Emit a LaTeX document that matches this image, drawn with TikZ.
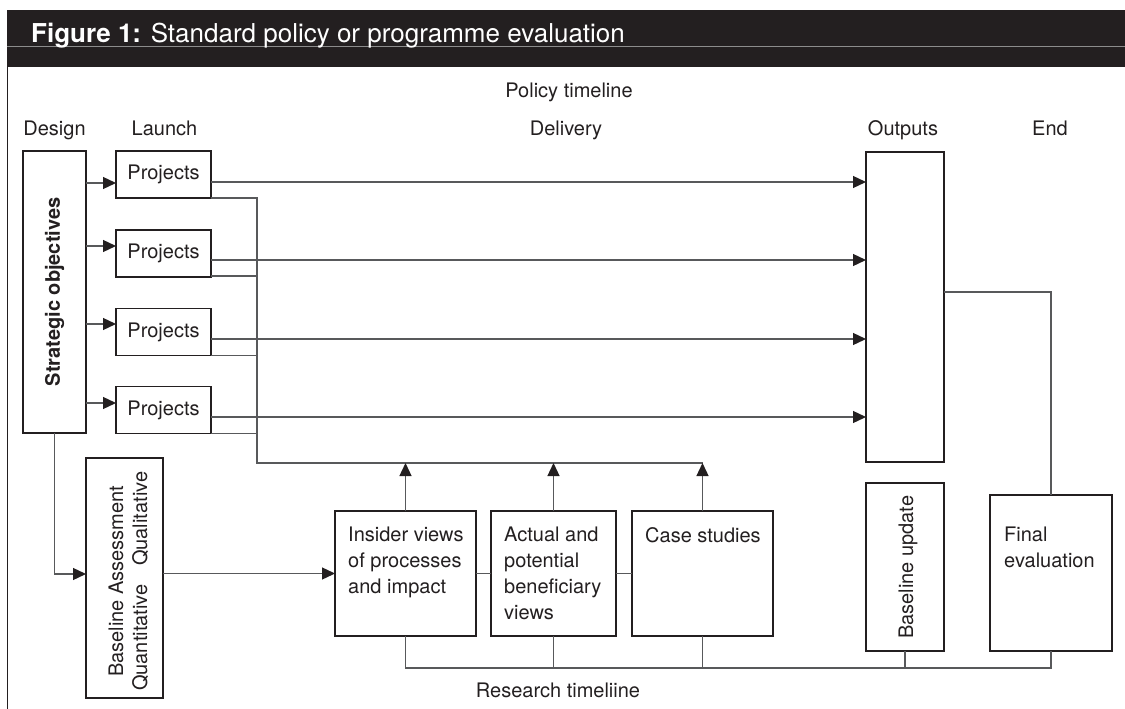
\documentclass[tikz,border=0pt]{standalone}
\usepackage{fontspec}
\setmainfont{TeX Gyre Heros}
\usetikzlibrary{arrows.meta}
\definecolor{ink}{HTML}{231F20}
\definecolor{wire}{HTML}{58595B}
\definecolor{rulegrey}{HTML}{8C8C8C}
\newcommand\figfont{\fontsize{20}{26}\selectfont}
\newcommand\titlefont{\fontsize{26}{30}\selectfont}
\begin{document}
\begin{tikzpicture}[x=1pt,y=-1pt,
  every node/.style={font=\figfont, text=ink},
  box/.style={draw=ink, line width=1.4pt, inner sep=0pt, outer sep=0pt},
  txt/.style={inner sep=0pt, align=left, anchor=north west},
  vtxt/.style={inner sep=0pt, rotate=90, anchor=base west},
  wire/.style={draw=wire, line width=1.3pt},
  arr/.style={wire, -{Triangle[length=13pt,width=12pt,color=ink]}}]
\useasboundingbox (0,0) rectangle (1125,709);

% title band and frame
\fill[ink] (7,10) rectangle (1125,67);
\draw[rulegrey, line width=1pt] (7,47) -- (1125,47);
\draw[ink, line width=1.4pt] (7.7,67) -- (7.7,709);
\node[anchor=base west, text=white, inner sep=0pt, font=\titlefont] (title) at (31,43)
  {\textbf{Figure 1:} Standard policy or programme evaluation};

% phase labels
\node[anchor=base] (lpolicy) at (569,97) {Policy timeline};
\node[anchor=base] (ldesign) at (54.5,135) {Design};
\node[anchor=base] (llaunch) at (164.5,135) {Launch};
\node[anchor=base] (ldelivery) at (566,135) {Delivery};
\node[anchor=base] (loutputs) at (903,135) {Outputs};
\node[anchor=base] (lend) at (1050,135) {End};
\node[anchor=base] (lresearch) at (558,697) {Research timeliine};

% boxes
\node[box, minimum width=63pt, minimum height=282pt] (so) at (54.5,292) {};
\node[rotate=90, inner sep=0pt, font=\figfont\bfseries] (sotxt) at (so.center) {Strategic objectives};
\node[box, minimum width=95pt, minimum height=47pt] (p1) at (163.5,174.5) {Projects};
\node[box, minimum width=95pt, minimum height=47pt] (p2) at (163.5,253.5) {Projects};
\node[box, minimum width=95pt, minimum height=47pt] (p3) at (163.5,332) {Projects};
\node[box, minimum width=95pt, minimum height=47pt] (p4) at (163.5,410) {Projects};
\node[box, minimum width=78pt, minimum height=310pt] (out) at (905,307) {};

\node[box, minimum width=77pt, minimum height=240pt] (ba) at (124.5,578) {};
\node[vtxt] (batxt) at ([shift={(37,-21)}]ba.south west) {Baseline Assessment};
\node[vtxt] (baqn) at ([shift={(61,-7)}]ba.south west) {Quantitative};
\node[vtxt] (baql) at ([shift={(61,-132)}]ba.south west) {Qualitative};

\node[box, minimum width=141pt, minimum height=125pt] (ins) at (405.5,573.5) {};
\node[txt] (instxt) at ([shift={(13,16)}]ins.north west) {Insider views\\of processes\\and impact};
\node[box, minimum width=125pt, minimum height=125pt] (act) at (553.5,573.5) {};
\node[txt] (acttxt) at ([shift={(13,16)}]act.north west) {Actual and\\potential\\beneficiary\\views};
\node[box, minimum width=141pt, minimum height=125pt] (cs) at (702.5,573.5) {};
\node[txt] (cstxt) at ([shift={(13,16)}]cs.north west) {Case studies};

\node[box, minimum width=78pt, minimum height=168pt] (bu) at (905,567) {};
\node[vtxt] (butxt) at ([shift={(8,-12)}]bu.south) {Baseline update};
\node[box, minimum width=122pt, minimum height=156pt] (fe) at (1051,573) {};
\node[txt] (fetxt) at ([shift={(14,32)}]fe.north west) {Final\\evaluation};

% objectives feed the projects
\coordinate (a1) at ([yshift=-8.5pt]p1.west);
\coordinate (a2) at ([yshift=7.5pt]p2.west);
\coordinate (a3) at ([yshift=8pt]p3.west);
\coordinate (a4) at ([yshift=7pt]p4.west);
\foreach \a in {a1,a2,a3,a4} \draw[arr] (\a -| so.east) -- (\a);

% projects deliver outputs
\coordinate (b1) at ([yshift=-7.5pt]p1.east);
\coordinate (b2) at ([yshift=-6.5pt]p2.east);
\coordinate (b3) at ([yshift=-7pt]p3.east);
\coordinate (b4) at ([yshift=-7pt]p4.east);
\foreach \b in {b1,b2,b3,b4} \draw[arr] (\b) -- (\b -| out.west);

% projects collected for the research strands
\coordinate (bus) at (257,463);
\draw[wire] (p1.south east) -| (bus) -- (bus -| cs.north);
\draw[wire] ([yshift=1pt]p2.south east) -- ([yshift=1pt]p2.south east -| bus);
\draw[wire] (p3.south east) -- (p3.south east -| bus);
\draw[wire] (p4.south east) -- (p4.south east -| bus);
\draw[arr] (ins.north) -- (ins.north |- bus);
\draw[arr] (act.north) -- (act.north |- bus);
\draw[arr] (cs.north) -- (cs.north |- bus);

% baseline assessment
\draw[arr] (so.south) |- ([yshift=4pt]ba.west);
\draw[arr] (ba.east |- ins.west) -- (ins.west);
\draw[wire] (ins.east) -- (act.west);
\draw[wire] (act.east) -- (cs.west);

% outputs to final evaluation
\coordinate (o1) at ([yshift=15pt]out.east);
\draw[wire] (o1) -| (fe.north);

% research timeline
\coordinate (rt) at (0,668);
\draw[wire] (ins.south) |- (fe.south |- rt) -- (fe.south);
\draw[wire] (act.south) -- (act.south |- rt);
\draw[wire] (cs.south) -- (cs.south |- rt);
\draw[wire] (bu.south) -- (bu.south |- rt);
\end{tikzpicture}
\end{document}
